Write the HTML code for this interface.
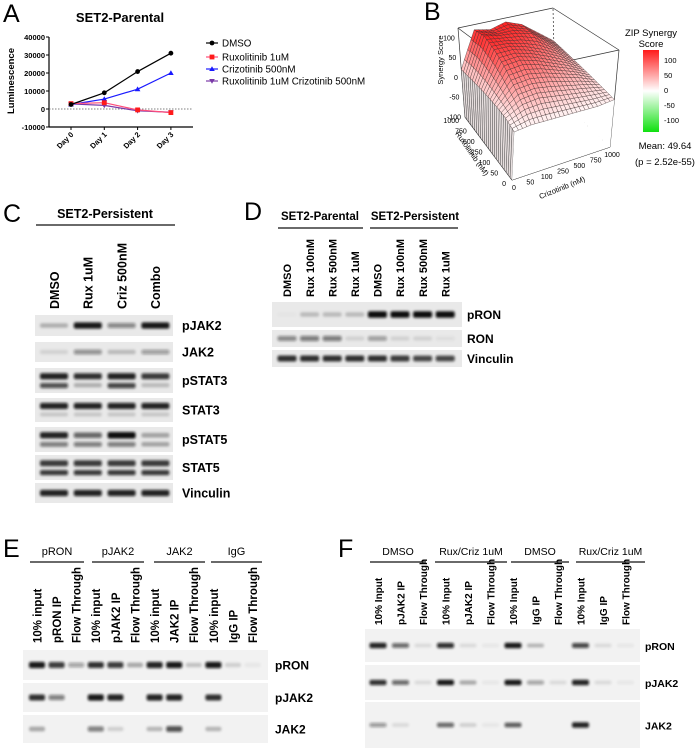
<!DOCTYPE html>
<html><head><meta charset="utf-8"><style>
html,body{margin:0;padding:0;background:#fff;width:696px;height:750px;overflow:hidden}
svg{display:block}
text{font-family:"Liberation Sans",sans-serif}
</style></head><body>
<svg id="fig" width="696" height="750" viewBox="0 0 696 750" xmlns="http://www.w3.org/2000/svg">
<defs><filter id="blur" x="-20%" y="-50%" width="140%" height="200%"><feGaussianBlur stdDeviation="1.3"/></filter></defs>
<g id="gA"></g>
<g id="gB"></g>
<g id="gC"></g>
<g id="gD"></g>
<g id="gE"></g>
<g id="gF"></g>
</svg>
<script>
// ---------- Panel A data ----------
const daysA = ["Day 0","Day 1","Day 2","Day 3"];
const yTicksA = [40000,30000,20000,10000,0,-10000];
const dmsoA = [2500,9000,20800,31000];
const ruxA = [3000,3500,-500,-2000];
const crizA = [2500,5500,11000,20000];
const comboA = [2800,2000,-1000,-1800];
const seriesNamesA = ["DMSO","Ruxolitinib 1uM","Crizotinib 500nM","Ruxolitinib 1uM Crizotinib 500nM"];
// ---------- Panel B data ----------
const ruxLevels = ["0","50","100","250","500","750","1000"];
const crizLevels = ["0","50","100","250","500","750","1000"];
const zTicksB = [100,50,0,-50,-100];
const synergyB = [
 [0,5,5,5,5,5,10],
 [10,30,35,30,25,20,15],
 [15,55,60,55,45,35,20],
 [18,80,85,75,60,45,25],
 [20,100,100,90,75,55,30],
 [20,115,108,105,95,65,35],
 [20,112,104,115,100,70,40]];
const cbTicks = [100,50,0,-50,-100];
// ---------- Blot data (band intensities 0..1) ----------
const lanesC = ["DMSO","Rux 1uM","Criz 500nM","Combo"];
const rowsC = ["pJAK2","JAK2","pSTAT3","STAT3","pSTAT5","STAT5","Vinculin"];
const bandsC = [[0.25,0.95,0.45,0.95],[0.1,0.4,0.2,0.35],[0.9,0.85,0.9,0.8],[0.9,0.9,0.9,0.9],[0.9,0.6,1,0.3],[0.8,0.8,0.8,0.8],[0.9,0.9,0.9,0.9]];
const bands2C = [[0,0,0,0],[0,0,0,0],[0.7,0.25,0.75,0.2],[0.15,0.15,0.15,0.15],[0.5,0.5,0.5,0.3],[0.8,0.8,0.8,0.8],[0,0,0,0]];
const lanesD = ["DMSO","Rux 100nM","Rux 500nM","Rux 1uM","DMSO","Rux 100nM","Rux 500nM","Rux 1uM"];
const rowsD = ["pRON","RON","Vinculin"];
const bandsD = [[0.02,0.2,0.2,0.2,1,1,1,1],[0.45,0.5,0.5,0.1,0.35,0.1,0.1,0.05],[0.85,0.85,0.85,0.85,0.85,0.8,0.75,0.75]];
const lanesE = ["10% input","pRON IP","Flow Through","10% input","pJAK2 IP","Flow Through","10% input","JAK2 IP","Flow Through","10% input","IgG IP","Flow Through"];
const groupsE = ["pRON","pJAK2","JAK2","IgG"];
const rowsE = ["pRON","pJAK2","JAK2"];
const bandsE = [[0.95,0.8,0.35,0.85,0.8,0.3,0.9,0.95,0.2,0.95,0.15,0.05],[0.85,0.5,0,0.95,0.9,0,0.9,0.9,0,0.85,0,0],[0.3,0,0,0.5,0.15,0,0.25,0.7,0,0.25,0,0]];
const lanesF = ["10% Input","pJAK2 IP","Flow Through","10% Input","pJAK2 IP","Flow Through","10% Input","IgG IP","Flow Through","10% Input","IgG IP","Flow Through"];
const groupsF = ["DMSO","Rux/Criz 1uM","DMSO","Rux/Criz 1uM"];
const rowsF = ["pRON","pJAK2","JAK2"];
const bandsF = [[0.9,0.6,0.1,0.85,0.1,0.05,0.95,0.25,0,0.75,0.1,0.05],[0.85,0.6,0.1,0.95,0.3,0.05,0.95,0.35,0.1,0.9,0.1,0.05],[0.4,0.1,0,0.6,0.15,0.05,0.65,0,0,0.9,0,0]];

const NS="http://www.w3.org/2000/svg";
function el(tag,attrs,parent,txt){const e=document.createElementNS(NS,tag);for(const k in attrs)e.setAttribute(k,attrs[k]);if(txt!==undefined)e.textContent=txt;parent.appendChild(e);return e;}

// ================= Panel A =================
(function(){
const g=document.getElementById('gA');
const x=i=>71+i*33.3, y=v=>109-v*0.0018;
let t=el('text',{x:3,y:22,'font-size':25},g,'A');


t=el('text',{x:120,y:22,'font-size':13,'font-weight':'bold','text-anchor':'middle'},g,'SET2-Parental');


t=el('text',{transform:'translate(14,81) rotate(-90)','font-size':9.5,'font-weight':'bold','text-anchor':'middle'},g,'Luminescence');


let a=el('line',{x1:49,y1:y(40000),x2:49,y2:y(-10000),stroke:'#000','stroke-width':1.2},g);


a=el('line',{x1:49,y1:y(-10000),x2:193,y2:y(-10000),stroke:'#000','stroke-width':1.2},g);


a=el('line',{x1:49,y1:y(0),x2:193,y2:y(0),stroke:'#555','stroke-width':0.8,'stroke-dasharray':'1.5,1.5'},g);


yTicksA.forEach(v=>{el('line',{x1:46,y1:y(v),x2:49,y2:y(v),stroke:'#000'},g);
 const tt=el('text',{x:45,y:y(v)+3,'font-size':7.5,'font-weight':'bold','text-anchor':'end'},g,String(v));
 
 });
daysA.forEach((d,i)=>{el('line',{x1:x(i),y1:y(-10000),x2:x(i),y2:y(-10000)+3,stroke:'#000'},g);
 const tt=el('text',{transform:`translate(${x(i)+3},${y(-10000)+8}) rotate(-45)`,'font-size':7.5,'font-weight':'bold','text-anchor':'end'},g,d);
 
 });
const ser=[[dmsoA,'#000','#000','circle'],[ruxA,'#ff4d7a','#ff1a1a','square'],[crizA,'#1a1aff','#1a1aff','tri'],[comboA,'#7a3aa8','#7a3aa8','itri']];
function marker(px,py,type,col,par){
 if(type==='circle')return el('circle',{cx:px,cy:py,r:2.4,fill:col},par);
 if(type==='square')return el('rect',{x:px-2.4,y:py-2.4,width:4.8,height:4.8,fill:col},par);
 if(type==='tri')return el('polygon',{points:`${px},${py-2.8} ${px-2.8},${py+2} ${px+2.8},${py+2}`,fill:col},par);
 return el('polygon',{points:`${px},${py+2.8} ${px-2.8},${py-2} ${px+2.8},${py-2}`,fill:col},par);}
ser.slice().reverse().forEach(([vals,lc,mc,mt],k)=>{
 const idx=3-k;
 const sg=el('g',{},g);
 
 
 el('polyline',{points:vals.map((v,i)=>x(i)+','+y(v)).join(' '),fill:'none',stroke:lc,'stroke-width':1.2},sg);
 vals.forEach((v,i)=>{const m=marker(x(i),y(v),mt,mc,sg);
  
  });
});
const ly=[43,57,69,81];
ser.forEach(([vals,lc,mc,mt],i)=>{
 const lg=el('g',{},g);
 
 
 el('line',{x1:206,y1:ly[i],x2:218,y2:ly[i],stroke:lc,'stroke-width':1.2},lg);
 marker(212,ly[i],mt,mc,lg);
 el('text',{x:222,y:ly[i]+3.5,'font-size':9.8},lg,seriesNamesA[i]);
});
})();

// ================= Panel B =================
(function(){
const g=document.getElementById('gB');
let t=el('text',{x:424,y:20,'font-size':25},g,'B');


const B={a:[512,180],r:[465,117],c:[610,147],rc:[555,95]};
const T={a:[517,72],r:[458,28],c:[619,50],rc:[553,8]};
function bil(Q,r,c,k){return Q.a[k]*(1-r)*(1-c)+Q.r[k]*r*(1-c)+Q.c[k]*(1-r)*c+Q.rc[k]*r*c;}
function P(r,c,z){const zn=(z+100)/225;return [bil(B,r,c,0)+(bil(T,r,c,0)-bil(B,r,c,0))*zn,bil(B,r,c,1)+(bil(T,r,c,1)-bil(B,r,c,1))*zn];}
const box=el('g',{},g);


const L=(p,q,d)=>el('line',{x1:p[0],y1:p[1],x2:q[0],y2:q[1],stroke:'#333','stroke-width':0.7,'stroke-dasharray':d||'none'},box);
L(B.rc,T.rc,'2,2');L(B.rc,B.r,'2,2');L(B.rc,B.c,'2,2');
L(T.r,T.rc);L(T.rc,T.c);L(T.r,T.a);L(T.a,T.c);
L(B.r,T.r);L(B.c,T.c);L(B.a,B.r);L(B.a,B.c);L(B.a,T.a);
const n=ruxLevels.length-1, sub=4;
function zAt(r,c){
 const i=Math.min(Math.floor(r),n-1), j=Math.min(Math.floor(c),n-1), fr=r-i, fc=c-j;
 return synergyB[i][j]*(1-fr)*(1-fc)+synergyB[i+1][j]*fr*(1-fc)+synergyB[i][j+1]*(1-fr)*fc+synergyB[i+1][j+1]*fr*fc;}
const N=n*sub;
// side skirts first (behind nothing, front faces)
const sk=el('g',{},g);


for(let a=0;a<N;a++){
 const z1=zAt(a/sub,0),z2=zAt((a+1)/sub,0);
 const p=[P(a/N,0,z1),P((a+1)/N,0,z2),P((a+1)/N,0,-100),P(a/N,0,-100)];
 el('polygon',{points:p.map(q=>q.join(',')).join(' '),fill:'#e6dede',stroke:'#2a2a2a','stroke-width':0.35},sk);}
for(let b=0;b<N;b++){
 const z1=zAt(0,b/sub),z2=zAt(0,(b+1)/sub);
 const p=[P(0,b/N,z1),P(0,(b+1)/N,z2),P(0,(b+1)/N,-100),P(0,b/N,-100)];
 el('polygon',{points:p.map(q=>q.join(',')).join(' '),fill:'#ffffff',stroke:'none'},sk);}
const quads=[];
for(let a=0;a<N;a++)for(let b=0;b<N;b++)quads.push([a,b]);
quads.sort((p,q)=>(q[0]+q[1])-(p[0]+p[1]));
const sg=el('g',{},g);


function col(z){if(z>=0){const t=Math.min(z/125,1);const v=Math.round(255*(1-t*0.95));return `rgb(255,${v},${v})`;}
 const t=Math.min(-z/125,1);return `rgb(${Math.round(240-t*40)},255,${Math.round(240-t*40)})`;}
quads.forEach(([a,b])=>{
 const pts=[[a,b],[a+1,b],[a+1,b+1],[a,b+1]].map(([r,c])=>{const z=zAt(r/sub,c/sub);return P(r/N,c/N,z);});
 const zc=zAt((a+0.5)/sub,(b+0.5)/sub);
 el('polygon',{points:pts.map(p=>p[0].toFixed(1)+','+p[1].toFixed(1)).join(' '),fill:col(zc),stroke:'#3a2a2a','stroke-width':0.35},sg);
});
L(B.a,B.c);L(B.a,B.r);
zTicksB.forEach(v=>{const p=P(1,0,v);const tt=el('text',{x:p[0]-4,y:p[1]+2.5,'font-size':7,'text-anchor':'end'},g,String(v));
 
 });
t=el('text',{transform:'translate(443,60) rotate(-90)','font-size':7.5,'text-anchor':'middle'},g,'Synergy Score');


ruxLevels.forEach((l,i)=>{const p=P(i/n,0,-100);const tt=el('text',{x:p[0]-6,y:p[1]+6,'font-size':7,'text-anchor':'end'},g,l);
 
 });
crizLevels.forEach((l,i)=>{const p=P(0,i/n,-100);const tt=el('text',{x:p[0]+2,y:p[1]+10,'font-size':7,'text-anchor':'middle'},g,l);
 
 });
t=el('text',{transform:'translate(470,155) rotate(55)','font-size':7.5,'text-anchor':'middle'},g,'Ruxolitinib (nM)');


t=el('text',{transform:'translate(563,190) rotate(-22)','font-size':7.5,'text-anchor':'middle'},g,'Crizotinib (nM)');


const gr=el('linearGradient',{id:'cb',x1:0,y1:0,x2:0,y2:1},document.querySelector('defs'));
el('stop',{offset:'0','stop-color':'#ff1a1a'},gr);el('stop',{offset:'0.5','stop-color':'#ffffff'},gr);el('stop',{offset:'1','stop-color':'#10e010'},gr);
const cb=el('rect',{x:643,y:50,width:16,height:82,fill:'url(#cb)'},g);


t=el('text',{x:651,y:36,'font-size':9.5,'text-anchor':'middle'},g,'ZIP Synergy');


el('text',{x:651,y:47,'font-size':9.5,'text-anchor':'middle'},g,'Score');
cbTicks.forEach((v,i)=>{const tt=el('text',{x:664,y:63+i*15,'font-size':7.5},g,String(v));
 
 });
t=el('text',{x:665,y:149,'font-size':9.5,'text-anchor':'middle'},g,'Mean: 49.64');


t=el('text',{x:665,y:165,'font-size':9.5,'text-anchor':'middle'},g,'(p = 2.52e-55)');


})();

// ================= Blot helper =================
function blot(g,opt){
 const {x0,x1,lanesX,rows,labelX,bands,bands2,bw,bh,name}=opt;
 rows.forEach((r,ri)=>{
  const [y0,y1]=r;
  const rg=el('g',{},g);
  
  
  el('rect',{x:x0,y:y0,width:x1-x0,height:y1-y0,fill:opt.bg||'#e9e9e9'},rg);
  const cy=(y0+y1)/2, has2=bands2&&bands2[ri].some(v=>v>0);
  const bg=el('g',{filter:'url(#blur)'},rg);
  lanesX.forEach((lx,li)=>{
   const v=bands[ri][li];
   const yy=has2?y0+(y1-y0)*0.33:cy;
   if(v>0)el('rect',{x:lx-bw/2,y:yy-bh*(0.5+v*0.3),width:bw,height:bh*(1+v*0.6),rx:2,fill:'#111','fill-opacity':Math.min(v,1)},bg);
   if(has2&&bands2[ri][li]>0){const v2=bands2[ri][li];el('rect',{x:lx-bw/2,y:y0+(y1-y0)*0.68-bh*0.5,width:bw,height:bh*(1+v2*0.4),rx:2,fill:'#111','fill-opacity':v2},bg);}
  });
  const lt=el('text',{x:labelX,y:cy+4.5,'font-size':opt.lfs||12.5,'font-weight':'bold'},rg,opt.rowNames[ri]);
  
  
 });
}
function laneLabels(g,lanesX,names,bottom,fs){
 names.forEach((nm,i)=>{const t=el('text',{transform:`translate(${lanesX[i]+fs*0.38},${bottom}) rotate(-90)`,'font-size':fs,'font-weight':'bold'},g,nm);
  
  });
}
function header(g,txt,cx,y,ux0,ux1,fs,bold,uy){
 const t=el('text',{x:cx,y:y,'font-size':fs,'font-weight':bold?'bold':'normal','text-anchor':'middle'},g,txt);
 
 
 const l=el('line',{x1:ux0,y1:uy,x2:ux1,y2:uy,stroke:'#111','stroke-width':1.3},g);
 
 
}
function letter(g,ch,x,y,nm){const t=el('text',{x:x,y:y,'font-size':25},g,ch);
 
 }

(function(){const g=document.getElementById('gC');
letter(g,'C',3,222,'panel-c-letter');
header(g,'SET2-Persistent',105,218,36,175,12.5,true,225);
const lx=lanesC.map((_,i)=>54+i*33.8);
laneLabels(g,lx,lanesC,309,12.5);
blot(g,{name:'c',x0:35,x1:173,lanesX:lx,rows:[[315,336],[342,362],[368,393],[398,422],[427,452],[455,480],[483,503]],labelX:182,bands:bandsC,bands2:bands2C,bw:28,bh:4,rowNames:rowsC});
})();
(function(){const g=document.getElementById('gD');
letter(g,'D',244,220,'panel-d-letter');
header(g,'SET2-Parental',320,220,278,363,11.5,true,228);
el('line',{x1:370,y1:228,x2:458,y2:228,stroke:'#111','stroke-width':1.3},g);
const t=el('text',{x:415,y:220,'font-size':11.5,'font-weight':'bold','text-anchor':'middle'},g,'SET2-Persistent');


const lx=lanesD.map((_,i)=>287+i*22.6);
laneLabels(g,lx,lanesD,297,11);
blot(g,{name:'d',x0:272,x1:462,lanesX:lx,rows:[[302,327],[330,347],[350,367]],labelX:467,bands:bandsD,bw:19,bh:4,rowNames:rowsD,lfs:12});
})();
(function(){const g=document.getElementById('gE');
letter(g,'E',3,557,'panel-e-letter');
const gx=[[30,84],[92,144],[154,205],[211,262]];
groupsE.forEach((n,i)=>header(g,n,(gx[i][0]+gx[i][1])/2,555,gx[i][0],gx[i][1],11,false,562));
const lx=lanesE.map((_,i)=>37+i*19.6);
laneLabels(g,lx,lanesE,643,11.5);
blot(g,{name:'e',x0:23,x1:268,lanesX:lx,rows:[[650,680],[683,712],[715,743]],labelX:275,bands:bandsE,bw:16,bh:4,rowNames:rowsE,bg:'#f2f2f2',lfs:12});
})();
(function(){const g=document.getElementById('gF');
letter(g,'F',338,557,'panel-f-letter');
const gx=[[370,426],[435,507],[511,569],[576,645]];
groupsF.forEach((n,i)=>header(g,n,(gx[i][0]+gx[i][1])/2,555,gx[i][0],gx[i][1],10.5,false,562));
const lx=lanesF.map((_,i)=>378+i*22.5);
laneLabels(g,lx,lanesF,625,10);
blot(g,{name:'f',x0:365,x1:640,lanesX:lx,rows:[[629,662],[665,700],[702,748]],labelX:645,bands:bandsF,bw:17,bh:3.5,rowNames:rowsF,bg:'#f2f2f2',lfs:10.5});
})();
</script>
</body></html>
